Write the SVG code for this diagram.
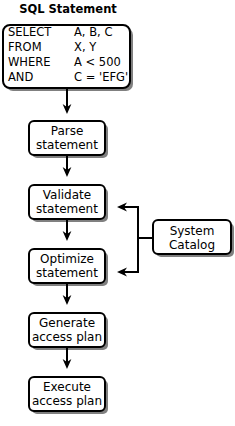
<svg xmlns="http://www.w3.org/2000/svg" width="235" height="426" viewBox="0 0 235 426">
<style>
.bg{fill:#ffffff}
.sh{fill:#808080;stroke:none}
.box{fill:#ffffff;stroke:#000000;stroke-width:2}
.t{font-family:"DejaVu Sans",Verdana,sans-serif;font-size:11.5px;fill:#000000}
.lbl{font-family:"DejaVu Sans",Verdana,sans-serif;font-size:12px;fill:#000000;text-anchor:middle}
.title{font-family:"DejaVu Sans",Verdana,sans-serif;font-size:11.5px;font-weight:bold;fill:#000000;text-anchor:middle}
.c{fill:none;stroke:#000000;stroke-width:2}
</style>
<defs>
<marker id="ah" viewBox="0 0 10 10" refX="4" refY="5" markerWidth="10" markerHeight="10" markerUnits="userSpaceOnUse" orient="auto">
<path d="M0,0.6 L10,5 L0,9.4 L3,5 Z" fill="#000000"/>
</marker>
</defs>
<rect class="bg" x="0" y="0" width="235" height="426"/>
<g id="sql">
<text class="title" x="68" y="13">SQL Statement</text>
<rect class="sh" x="6" y="28" width="127" height="63" rx="7"/>
<rect class="box" x="3" y="25" width="127" height="63" rx="7"/>
<text class="t" x="8" y="36">SELECT</text>
<text class="t" x="74" y="36">A, B, C</text>
<text class="t" x="8" y="51">FROM</text>
<text class="t" x="74" y="51">X, Y</text>
<text class="t" x="8" y="66">WHERE</text>
<text class="t" x="74" y="66">A &lt; 500</text>
<text class="t" x="8" y="81">AND</text>
<text class="t" x="74" y="81">C = 'EFG'</text>
</g>
<g id="parse">
<rect class="sh" x="32" y="124" width="76" height="34" rx="5"/>
<rect class="box" x="29" y="121" width="76" height="34" rx="5"/>
<text class="lbl" x="67" y="135">Parse</text>
<text class="lbl" x="67" y="149">statement</text>
</g>
<g id="validate">
<rect class="sh" x="32" y="188" width="76" height="34" rx="5"/>
<rect class="box" x="29" y="185" width="76" height="34" rx="5"/>
<text class="lbl" x="67" y="199">Validate</text>
<text class="lbl" x="67" y="213">statement</text>
</g>
<g id="optimize">
<rect class="sh" x="32" y="252" width="76" height="34" rx="5"/>
<rect class="box" x="29" y="249" width="76" height="34" rx="5"/>
<text class="lbl" x="67" y="263">Optimize</text>
<text class="lbl" x="67" y="277">statement</text>
</g>
<g id="generate">
<rect class="sh" x="32" y="316" width="76" height="34" rx="5"/>
<rect class="box" x="29" y="313" width="76" height="34" rx="5"/>
<text class="lbl" x="67" y="327">Generate</text>
<text class="lbl" x="67" y="341">access plan</text>
</g>
<g id="execute">
<rect class="sh" x="32" y="380" width="76" height="34" rx="5"/>
<rect class="box" x="29" y="377" width="76" height="34" rx="5"/>
<text class="lbl" x="67" y="391">Execute</text>
<text class="lbl" x="67" y="405">access plan</text>
</g>
<g id="catalog">
<rect class="sh" x="156" y="223" width="78" height="34" rx="5"/>
<rect class="box" x="153" y="220" width="78" height="34" rx="5"/>
<text class="lbl" x="192" y="235">System</text>
<text class="lbl" x="192" y="249">Catalog</text>
</g>
<g id="connectors">
<line class="c" x1="67" y1="89" x2="67" y2="108" marker-end="url(#ah)"/>
<line class="c" x1="67" y1="156" x2="67" y2="171" marker-end="url(#ah)"/>
<line class="c" x1="67" y1="220" x2="67" y2="235" marker-end="url(#ah)"/>
<line class="c" x1="67" y1="284" x2="67" y2="299" marker-end="url(#ah)"/>
<line class="c" x1="67" y1="348" x2="67" y2="363" marker-end="url(#ah)"/>
<polyline class="c" points="138,206 138,273"/>
<line class="c" x1="138" y1="207" x2="123" y2="207" marker-end="url(#ah)"/>
<line class="c" x1="138" y1="272" x2="123" y2="272" marker-end="url(#ah)"/>
<line class="c" x1="138" y1="238" x2="153" y2="238"/>
</g>
</svg>
